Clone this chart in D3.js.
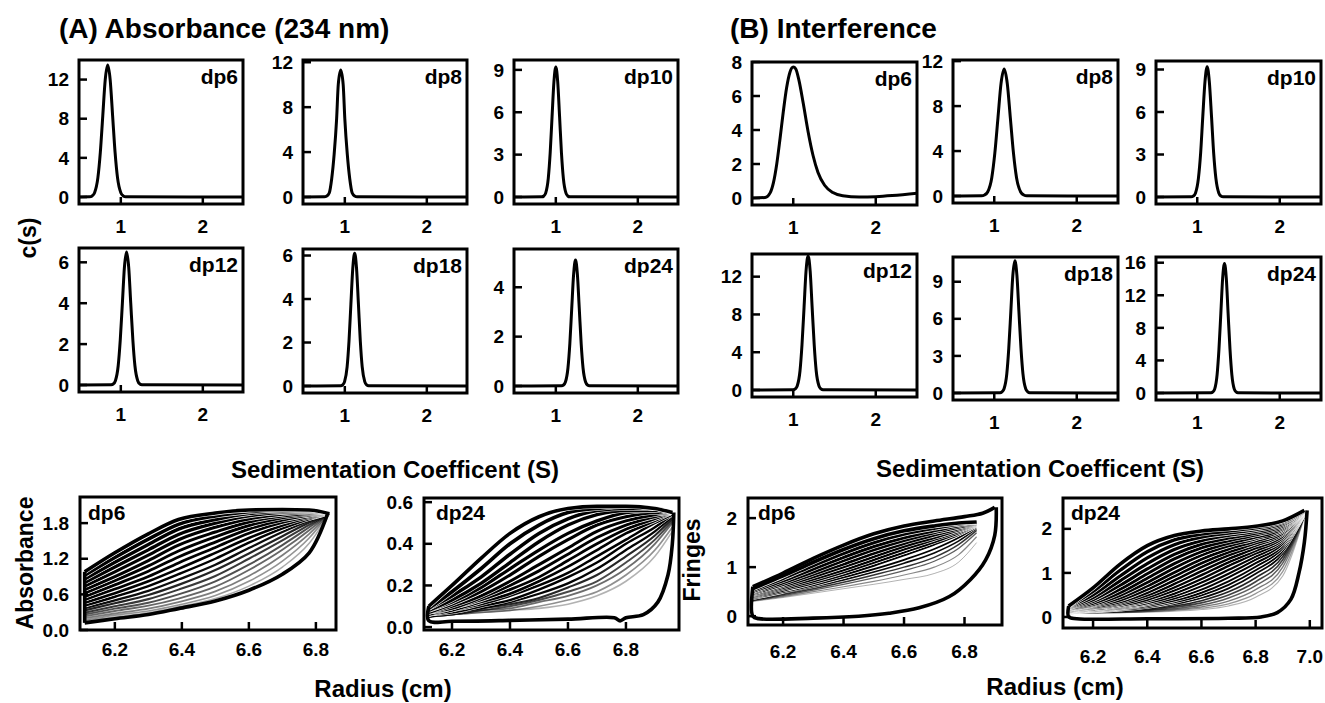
<!DOCTYPE html>
<html>
<head>
<meta charset="utf-8">
<script src="https://cdn.jsdelivr.net/npm/d3@7"></script>
<style>
  body { margin: 0; background: #fff; }
  svg { display: block; }
  text { font-family: "Liberation Sans", Arial, sans-serif; font-weight: bold; fill: #000; }
</style>
</head>
<body>
<svg id="fig" width="1325" height="703"></svg>
<script>
// ---- c(s) distributions (top rows) ----
var csNames = ["dp6", "dp8", "dp10", "dp12", "dp18", "dp24"];
var sTicks = [1, 2];

var absCsS = [
  [0.45,0.62,0.65,0.68,0.72,0.75,0.78,0.81,0.84,0.87,0.90,0.93,0.96,1.00,1.03,1.06,2.55],
  [0.45,0.75,0.78,0.81,0.84,0.87,0.90,0.92,0.95,0.98,1.00,1.03,1.06,1.09,1.12,1.15,2.55],
  [0.45,0.83,0.854,0.877,0.908,0.931,0.954,0.977,1.0,1.023,1.046,1.069,1.092,1.123,1.146,1.17,2.55],
  [0.45,0.883,0.908,0.934,0.968,0.993,1.019,1.044,1.07,1.096,1.121,1.147,1.172,1.206,1.232,1.257,2.55],
  [0.45,0.95,0.974,0.997,1.028,1.051,1.074,1.097,1.12,1.143,1.166,1.189,1.212,1.243,1.266,1.29,2.55],
  [0.45,1.07,1.094,1.117,1.148,1.171,1.194,1.217,1.24,1.263,1.286,1.309,1.332,1.363,1.386,1.41,2.55]
];
var absCsC = [
  [0,0.02,0.11,0.44,1.95,4.55,8.3,12.0,13.5,12.0,8.3,4.55,1.95,0.44,0.11,0.02,0],
  [0,0.02,0.09,0.36,1.63,3.81,6.96,10.0,11.3,10.0,6.96,3.81,1.63,0.36,0.09,0.02,0],
  [0,0.01,0.07,0.29,1.32,3.10,5.67,8.16,9.2,8.16,5.67,3.10,1.32,0.29,0.07,0.01,0],
  [0,0.01,0.05,0.21,0.94,2.19,4.0,5.77,6.5,5.77,4.0,2.19,0.94,0.21,0.05,0.01,0],
  [0,0.01,0.05,0.2,0.88,2.06,3.76,5.41,6.1,5.41,3.76,2.06,0.88,0.2,0.05,0.01,0],
  [0,0.01,0.04,0.16,0.73,1.72,3.14,4.52,5.1,4.52,3.14,1.72,0.73,0.16,0.04,0.01,0]
];
var absCsTop = [14.0, 12.2, 9.7, 6.7, 6.3, 5.55];
var absCsTicks = [[0,4,8,12],[0,4,8,12],[0,3,6,9],[0,2,4,6],[0,2,4,6],[0,2,4]];

var intCsS = [
  [0.45,0.66,0.72,0.76,0.80,0.84,0.88,0.92,0.96,1.00,1.03,1.07,1.12,1.18,1.24,1.30,1.38,1.48,1.60,1.80,2.00,2.20,2.55],
  [0.45,0.845,0.882,0.92,0.97,1.007,1.045,1.082,1.12,1.158,1.195,1.233,1.27,1.32,1.358,1.395,2.55],
  [0.45,0.926,0.953,0.979,1.014,1.041,1.067,1.094,1.12,1.146,1.173,1.199,1.226,1.261,1.287,1.314,2.55],
  [0.45,1.0,1.024,1.049,1.082,1.106,1.131,1.155,1.18,1.205,1.229,1.254,1.278,1.311,1.336,1.36,2.55],
  [0.45,1.07,1.094,1.119,1.152,1.176,1.201,1.225,1.25,1.275,1.299,1.324,1.348,1.381,1.406,1.43,2.55],
  [0.45,1.167,1.189,1.212,1.241,1.263,1.286,1.308,1.33,1.352,1.374,1.397,1.419,1.448,1.471,1.493,2.55]
];
var intCsC = [
  [0,0.03,0.3,0.9,2.0,3.5,5.1,6.5,7.4,7.7,7.6,6.9,5.6,3.9,2.5,1.5,0.75,0.32,0.13,0.06,0.08,0.14,0.3],
  [0,0.02,0.09,0.36,1.63,3.81,6.96,10.0,11.3,10.0,6.96,3.81,1.63,0.36,0.09,0.02,0],
  [0,0.01,0.07,0.29,1.32,3.10,5.67,8.16,9.2,8.16,5.67,3.10,1.32,0.29,0.07,0.01,0],
  [0,0.02,0.11,0.45,2.04,4.79,8.75,12.6,14.2,12.6,8.75,4.79,2.04,0.45,0.11,0.02,0],
  [0,0.02,0.09,0.34,1.54,3.61,6.59,9.49,10.7,9.49,6.59,3.61,1.54,0.34,0.09,0.02,0],
  [0,0.02,0.13,0.51,2.29,5.36,9.79,14.1,15.9,14.1,9.79,5.36,2.29,0.51,0.13,0.02,0]
];
var intCsTop = [8.0, 12.1, 9.6, 14.4, 11.0, 16.7];
var intCsTicks = [[0,2,4,6,8],[0,4,8,12],[0,3,6,9],[0,4,8,12],[0,3,6,9],[0,4,8,12,16]];

// ---- raw scans (bottom row) ----
var radiusTicks = [6.2, 6.4, 6.6, 6.8];
var radiusTicks7 = [6.2, 6.4, 6.6, 6.8, 7.0];
var absDp6Ticks = [0, 0.6, 1.2, 1.8];
var absDp24Ticks = [0, 0.2, 0.4, 0.6];
var fringeTicks = [0, 1, 2];

var absDp6R = [6.11, 6.2, 6.3, 6.39, 6.5, 6.6, 6.7, 6.78, 6.84];
var absDp6Scans = [
  [0.98,1.30,1.62,1.86,1.97,2.02,2.03,2.02,1.96],
  [0.92,1.22,1.53,1.78,1.92,1.99,2.02,2.01,1.96],
  [0.86,1.14,1.44,1.70,1.86,1.96,2.00,2.00,1.96],
  [0.80,1.06,1.35,1.61,1.80,1.92,1.98,1.99,1.96],
  [0.74,0.98,1.26,1.52,1.73,1.87,1.95,1.98,1.96],
  [0.68,0.90,1.17,1.43,1.65,1.82,1.92,1.96,1.96],
  [0.62,0.83,1.08,1.33,1.57,1.76,1.89,1.95,1.96],
  [0.56,0.76,0.99,1.23,1.48,1.70,1.85,1.93,1.96],
  [0.51,0.69,0.90,1.13,1.39,1.63,1.81,1.91,1.96],
  [0.46,0.62,0.82,1.03,1.30,1.55,1.76,1.89,1.96],
  [0.41,0.56,0.74,0.94,1.20,1.47,1.71,1.87,1.96],
  [0.37,0.50,0.66,0.85,1.10,1.38,1.65,1.84,1.96],
  [0.33,0.45,0.59,0.76,1.01,1.29,1.58,1.81,1.96],
  [0.29,0.40,0.52,0.68,0.91,1.20,1.51,1.77,1.96],
  [0.26,0.36,0.46,0.60,0.82,1.10,1.43,1.73,1.96],
  [0.23,0.32,0.41,0.53,0.73,1.01,1.35,1.68,1.96],
  [0.20,0.28,0.36,0.47,0.65,0.91,1.26,1.62,1.96],
  [0.17,0.25,0.32,0.42,0.58,0.82,1.16,1.55,1.96],
  [0.15,0.22,0.29,0.39,0.53,0.74,1.06,1.46,1.96],
  [0.12,0.20,0.27,0.37,0.50,0.68,0.95,1.30,1.96]
];
var absDp6Edges = [
  [[6.11,0.98],[6.11,0.12]],
  [[6.11,0.12],[6.2,0.19],[6.3,0.26],[6.39,0.36],[6.5,0.49],[6.6,0.67],[6.7,0.94],[6.78,1.30],[6.835,1.96]]
];

var absDp24R = [6.12, 6.2, 6.3, 6.4, 6.5, 6.6, 6.7, 6.8, 6.9, 6.96];
var absDp24Scans = [
  [0.10,0.20,0.33,0.45,0.53,0.57,0.58,0.58,0.57,0.55],
  [0.09,0.17,0.28,0.40,0.49,0.55,0.57,0.58,0.57,0.55],
  [0.09,0.15,0.24,0.35,0.45,0.52,0.56,0.57,0.57,0.55],
  [0.08,0.13,0.21,0.31,0.41,0.49,0.54,0.56,0.56,0.55],
  [0.08,0.12,0.19,0.28,0.37,0.45,0.51,0.55,0.56,0.55],
  [0.07,0.11,0.17,0.25,0.34,0.42,0.49,0.53,0.55,0.55],
  [0.07,0.10,0.15,0.22,0.30,0.38,0.46,0.51,0.54,0.55],
  [0.07,0.09,0.14,0.20,0.27,0.35,0.43,0.49,0.53,0.55],
  [0.06,0.09,0.13,0.18,0.24,0.32,0.40,0.47,0.52,0.55],
  [0.06,0.08,0.12,0.16,0.22,0.29,0.37,0.45,0.51,0.55],
  [0.06,0.08,0.11,0.15,0.20,0.26,0.34,0.42,0.50,0.54],
  [0.06,0.07,0.10,0.13,0.18,0.24,0.31,0.40,0.48,0.54],
  [0.05,0.07,0.09,0.12,0.16,0.21,0.28,0.37,0.46,0.53],
  [0.05,0.07,0.09,0.11,0.14,0.19,0.25,0.34,0.44,0.52],
  [0.05,0.06,0.08,0.10,0.13,0.17,0.22,0.31,0.42,0.51],
  [0.05,0.06,0.08,0.09,0.12,0.15,0.20,0.28,0.40,0.50],
  [0.05,0.06,0.07,0.08,0.10,0.13,0.17,0.25,0.37,0.48],
  [0.05,0.06,0.07,0.08,0.09,0.11,0.15,0.22,0.34,0.46]
];
var absDp24Edges = [
  [[6.12,0.10],[6.12,0.03],[6.2,0.028],[6.4,0.032],[6.6,0.038],[6.76,0.045],[6.78,0.03],[6.8,0.045],
   [6.86,0.06],[6.91,0.12],[6.945,0.25],[6.96,0.4],[6.965,0.55]]
];

var intDp6R = [6.1, 6.2, 6.3, 6.4, 6.5, 6.6, 6.7, 6.78, 6.84];
var intDp6Scans = [
  [0.56,0.82,1.10,1.36,1.58,1.74,1.84,1.90,1.92],
  [0.53,0.77,1.03,1.28,1.50,1.67,1.79,1.87,1.91],
  [0.50,0.72,0.96,1.20,1.42,1.60,1.74,1.84,1.90],
  [0.48,0.68,0.90,1.13,1.35,1.54,1.70,1.81,1.89],
  [0.46,0.64,0.85,1.06,1.28,1.48,1.65,1.78,1.88],
  [0.44,0.61,0.80,1.00,1.21,1.42,1.60,1.75,1.87],
  [0.42,0.58,0.75,0.94,1.15,1.36,1.56,1.72,1.86],
  [0.40,0.55,0.71,0.89,1.09,1.30,1.51,1.69,1.85],
  [0.38,0.52,0.67,0.84,1.03,1.24,1.46,1.66,1.84],
  [0.36,0.49,0.63,0.79,0.96,1.15,1.37,1.60,1.82],
  [0.35,0.47,0.60,0.74,0.90,1.08,1.29,1.53,1.79],
  [0.33,0.44,0.56,0.69,0.84,1.00,1.20,1.46,1.75],
  [0.32,0.42,0.53,0.65,0.78,0.93,1.12,1.38,1.70],
  [0.31,0.40,0.50,0.60,0.71,0.84,1.00,1.25,1.62],
  [0.30,0.38,0.47,0.56,0.65,0.75,0.87,1.10,1.50]
];
var intDp6Edges = [
  [[6.1,0.6],[6.2,0.88],[6.3,1.18],[6.4,1.45],[6.5,1.68],[6.6,1.84],[6.7,1.94],[6.8,2.03],[6.86,2.1],[6.9,2.22]],
  [[6.1,0.6],[6.1,0.0],[6.12,-0.05],[6.3,-0.04],[6.45,0.0],[6.55,0.06],[6.65,0.17],[6.75,0.4],
   [6.82,0.75],[6.87,1.15],[6.9,1.65],[6.905,2.22]]
];

var intDp24R = [6.11, 6.2, 6.3, 6.4, 6.5, 6.6, 6.7, 6.8, 6.9, 6.98];
var intDp24Scans = [
  [0.25,0.66,1.20,1.62,1.85,1.95,2.00,2.06,2.18,2.42],
  [0.24,0.58,1.06,1.48,1.75,1.88,1.95,2.02,2.15,2.40],
  [0.23,0.50,0.93,1.34,1.64,1.81,1.90,1.98,2.12,2.40],
  [0.22,0.44,0.82,1.21,1.53,1.73,1.85,1.94,2.09,2.39],
  [0.21,0.39,0.72,1.09,1.42,1.65,1.79,1.90,2.06,2.39],
  [0.20,0.35,0.63,0.98,1.32,1.57,1.73,1.86,2.03,2.38],
  [0.19,0.31,0.55,0.88,1.21,1.48,1.67,1.81,2.00,2.38],
  [0.18,0.28,0.49,0.78,1.11,1.40,1.61,1.77,1.97,2.37],
  [0.17,0.26,0.43,0.70,1.01,1.31,1.54,1.72,1.94,2.37],
  [0.16,0.24,0.38,0.62,0.92,1.22,1.47,1.67,1.90,2.36],
  [0.15,0.22,0.34,0.55,0.83,1.13,1.40,1.62,1.87,2.36],
  [0.14,0.20,0.31,0.49,0.75,1.04,1.32,1.56,1.83,2.35],
  [0.13,0.19,0.28,0.44,0.67,0.95,1.24,1.50,1.79,2.35],
  [0.12,0.17,0.25,0.39,0.60,0.86,1.16,1.44,1.75,2.34],
  [0.12,0.16,0.23,0.35,0.53,0.78,1.07,1.37,1.71,2.34],
  [0.11,0.15,0.21,0.31,0.47,0.70,0.98,1.30,1.66,2.33],
  [0.11,0.14,0.19,0.28,0.42,0.62,0.90,1.22,1.61,2.33],
  [0.10,0.13,0.18,0.25,0.37,0.55,0.81,1.14,1.56,2.32],
  [0.10,0.12,0.16,0.22,0.33,0.49,0.73,1.06,1.50,2.32],
  [0.10,0.12,0.15,0.20,0.29,0.43,0.65,0.98,1.44,2.31],
  [0.09,0.11,0.14,0.18,0.25,0.37,0.57,0.89,1.37,2.31],
  [0.09,0.11,0.13,0.16,0.22,0.32,0.50,0.80,1.30,2.30],
  [0.09,0.10,0.12,0.15,0.19,0.27,0.43,0.71,1.22,2.30],
  [0.08,0.10,0.11,0.13,0.17,0.23,0.36,0.62,1.13,2.29],
  [0.08,0.09,0.10,0.12,0.15,0.20,0.30,0.53,1.03,2.28],
  [0.08,0.09,0.10,0.11,0.13,0.17,0.25,0.45,0.93,2.27]
];
var intDp24Edges = [
  [[6.11,0.25],[6.11,0.0],[6.14,-0.04],[6.4,-0.04],[6.7,-0.03],[6.82,0.0],[6.88,0.1],[6.93,0.4],
   [6.96,1.0],[6.98,1.7],[6.99,2.42]]
];

// ---- layout ----
var svg = d3.select("#fig");
var clipId = 0;

function txt(x, y, s, size, anchor) {
  return svg.append("text").attr("x", x).attr("y", y).attr("font-size", size)
    .attr("text-anchor", anchor || "start").text(s);
}
function vtxt(x, y, s, size) {
  return svg.append("text").attr("transform", "translate(" + x + "," + y + ") rotate(-90)")
    .attr("font-size", size).attr("text-anchor", "middle").text(s);
}
function clipRect(x0, y0, w, h) {
  var id = "clip" + (clipId++);
  svg.append("clipPath").attr("id", id).append("rect")
    .attr("x", x0).attr("y", y0).attr("width", w).attr("height", h);
  return "url(#" + id + ")";
}

function csPanel(x0, y0, w, h, xDom, sv, cv, top, ticks, name) {
  var x = d3.scaleLinear().domain(xDom).range([x0, x0 + w]);
  var y = d3.scaleLinear().domain([0, top]).range([y0 + h - 7, y0]);
  var g = svg.append("g").attr("clip-path", clipRect(x0, y0, w, h));
  var line = d3.line().x(function(d) { return x(d[0]); }).y(function(d) { return y(d[1]); })
    .curve(d3.curveMonotoneX);
  g.append("path").datum(d3.zip(sv, cv)).attr("d", line)
    .attr("fill", "none").attr("stroke", "#000").attr("stroke-width", 3)
    .attr("stroke-linejoin", "round");

  ticks.forEach(function(t) {
    svg.append("line").attr("x1", x0).attr("x2", x0 + 8).attr("y1", y(t)).attr("y2", y(t))
      .attr("stroke", "#000").attr("stroke-width", 2.5);
    txt(x0 - 10, y(t), t, 19, "end").attr("dy", "0.35em");
  });
  sTicks.forEach(function(t) {
    svg.append("line").attr("x1", x(t)).attr("x2", x(t)).attr("y1", y0 + h).attr("y2", y0 + h - 7)
      .attr("stroke", "#000").attr("stroke-width", 2.5);
    txt(x(t), y0 + h + 29, t, 19, "middle");
  });
  svg.append("rect").attr("x", x0).attr("y", y0).attr("width", w).attr("height", h)
    .attr("fill", "none").attr("stroke", "#000").attr("stroke-width", 3);
  txt(x0 + w - 5, y0 + 24, name, 21, "end");
}

var csA = [[79,60],[303,60],[514,60],[79,248],[303,249],[514,249]];
var csB = [[752,62],[953,60],[1156,61],[752,254],[953,257],[1156,257]];
csNames.forEach(function(n, i) {
  csPanel(csA[i][0], csA[i][1], 164, 144, [0.49, 2.49], absCsS[i], absCsC[i], absCsTop[i], absCsTicks[i], n);
  csPanel(csB[i][0], csB[i][1], 165, 143, [0.5, 2.5], intCsS[i], intCsC[i], intCsTop[i], intCsTicks[i], n);
});

function scanPanel(p) {
  var x = d3.scaleLinear().domain(p.xDom).range([p.x0, p.x0 + p.w]);
  var y = d3.scaleLinear().domain(p.yDom).range([p.y0 + p.h, p.y0]);
  var g = svg.append("g").attr("clip-path", clipRect(p.x0, p.y0, p.w, p.h));
  var line = d3.line().x(function(d) { return x(d[0]); }).y(function(d) { return y(d[1]); })
    .curve(d3.curveMonotoneX);
  var edgeLine = d3.line().x(function(d) { return x(d[0]); }).y(function(d) { return y(d[1]); })
    .curve(d3.curveCatmullRom.alpha(0.5));
  var n = p.scans.length;
  for (var i = n - 1; i >= 0; i--) {
    var t = i / (n - 1);
    var sw = i === 0 ? 3.6 : p.wMax - (p.wMax - p.wMin) * t;
    var op = t < p.solidUntil ? 1 : 1 - p.fade * (t - p.solidUntil) / (1 - p.solidUntil);
    var pts = d3.zip(p.r, p.scans[i]);
    if (t < p.solidUntil) {
      g.append("path").datum(pts).attr("d", line).attr("fill", "none")
        .attr("stroke", "#fff").attr("stroke-width", sw + 1.2);
    }
    g.append("path").datum(pts).attr("d", line).attr("fill", "none")
      .attr("stroke", "#000").attr("stroke-opacity", op).attr("stroke-width", sw);
  }
  p.edges.forEach(function(e) {
    g.append("path").datum(e).attr("d", edgeLine).attr("fill", "none")
      .attr("stroke", "#000").attr("stroke-width", 3.6).attr("stroke-linejoin", "round");
  });

  p.yTicks.forEach(function(t) {
    svg.append("line").attr("x1", p.x0).attr("x2", p.x0 + 8).attr("y1", y(t)).attr("y2", y(t))
      .attr("stroke", "#000").attr("stroke-width", 2.5);
    txt(p.x0 - 11, y(t), p.fmt(t), 19, "end").attr("dy", "0.35em");
  });
  p.xTicks.forEach(function(t) {
    svg.append("line").attr("x1", x(t)).attr("x2", x(t)).attr("y1", p.y0 + p.h).attr("y2", p.y0 + p.h - 8)
      .attr("stroke", "#000").attr("stroke-width", 2.5);
    txt(x(t), p.labelY, d3.format(".1f")(t), 19, "middle");
  });
  svg.append("rect").attr("x", p.x0).attr("y", p.y0).attr("width", p.w).attr("height", p.h)
    .attr("fill", "none").attr("stroke", "#000").attr("stroke-width", 3);
  txt(p.x0 + p.nameDx, 520, p.name, 21, "start");
}

scanPanel({x0: 80, y0: 497, w: 256, h: 133, xDom: [6.096, 6.86], yDom: [0, 2.24],
  xTicks: radiusTicks, yTicks: absDp6Ticks, fmt: d3.format(".1f"), labelY: 656,
  r: absDp6R, scans: absDp6Scans, edges: absDp6Edges, name: "dp6", nameDx: 8,
  wMax: 3.6, wMin: 1.4, fade: 0.75, solidUntil: 0.55});
scanPanel({x0: 424, y0: 498, w: 255, h: 132, xDom: [6.1034, 6.983], yDom: [-0.014, 0.62],
  xTicks: radiusTicks, yTicks: absDp24Ticks, fmt: d3.format(".1f"), labelY: 656,
  r: absDp24R, scans: absDp24Scans, edges: absDp24Edges, name: "dp24", nameDx: 12,
  wMax: 3.8, wMin: 1.6, fade: 0.7, solidUntil: 0.7});
scanPanel({x0: 748, y0: 498, w: 254, h: 127, xDom: [6.084, 6.924], yDom: [-0.18, 2.41],
  xTicks: radiusTicks, yTicks: fringeTicks, fmt: d3.format("d"), labelY: 658,
  r: intDp6R, scans: intDp6Scans, edges: intDp6Edges, name: "dp6", nameDx: 10,
  wMax: 3.4, wMin: 1.0, fade: 0.7, solidUntil: 0.7});
scanPanel({x0: 1063, y0: 498, w: 259, h: 130, xDom: [6.089, 7.045], yDom: [-0.25, 2.70],
  xTicks: radiusTicks7, yTicks: fringeTicks, fmt: d3.format("d"), labelY: 663,
  r: intDp24R, scans: intDp24Scans, edges: intDp24Edges, name: "dp24", nameDx: 8,
  wMax: 3.4, wMin: 1.2, fade: 0.7, solidUntil: 0.75});

// ---- titles and axis labels ----
txt(59, 38, "(A) Absorbance (234 nm)", 28, "start");
txt(730, 38, "(B) Interference", 28, "start");
vtxt(36, 238, "c(s)", 23);
txt(395, 478, "Sedimentation Coefficent (S)", 24, "middle");
txt(1040, 477, "Sedimentation Coefficent (S)", 24, "middle");
vtxt(33, 563, "Absorbance", 23);
vtxt(700, 560, "Fringes", 23);
txt(383, 697, "Radius (cm)", 24, "middle");
txt(1055, 695, "Radius (cm)", 24, "middle");
</script>
</body>
</html>
